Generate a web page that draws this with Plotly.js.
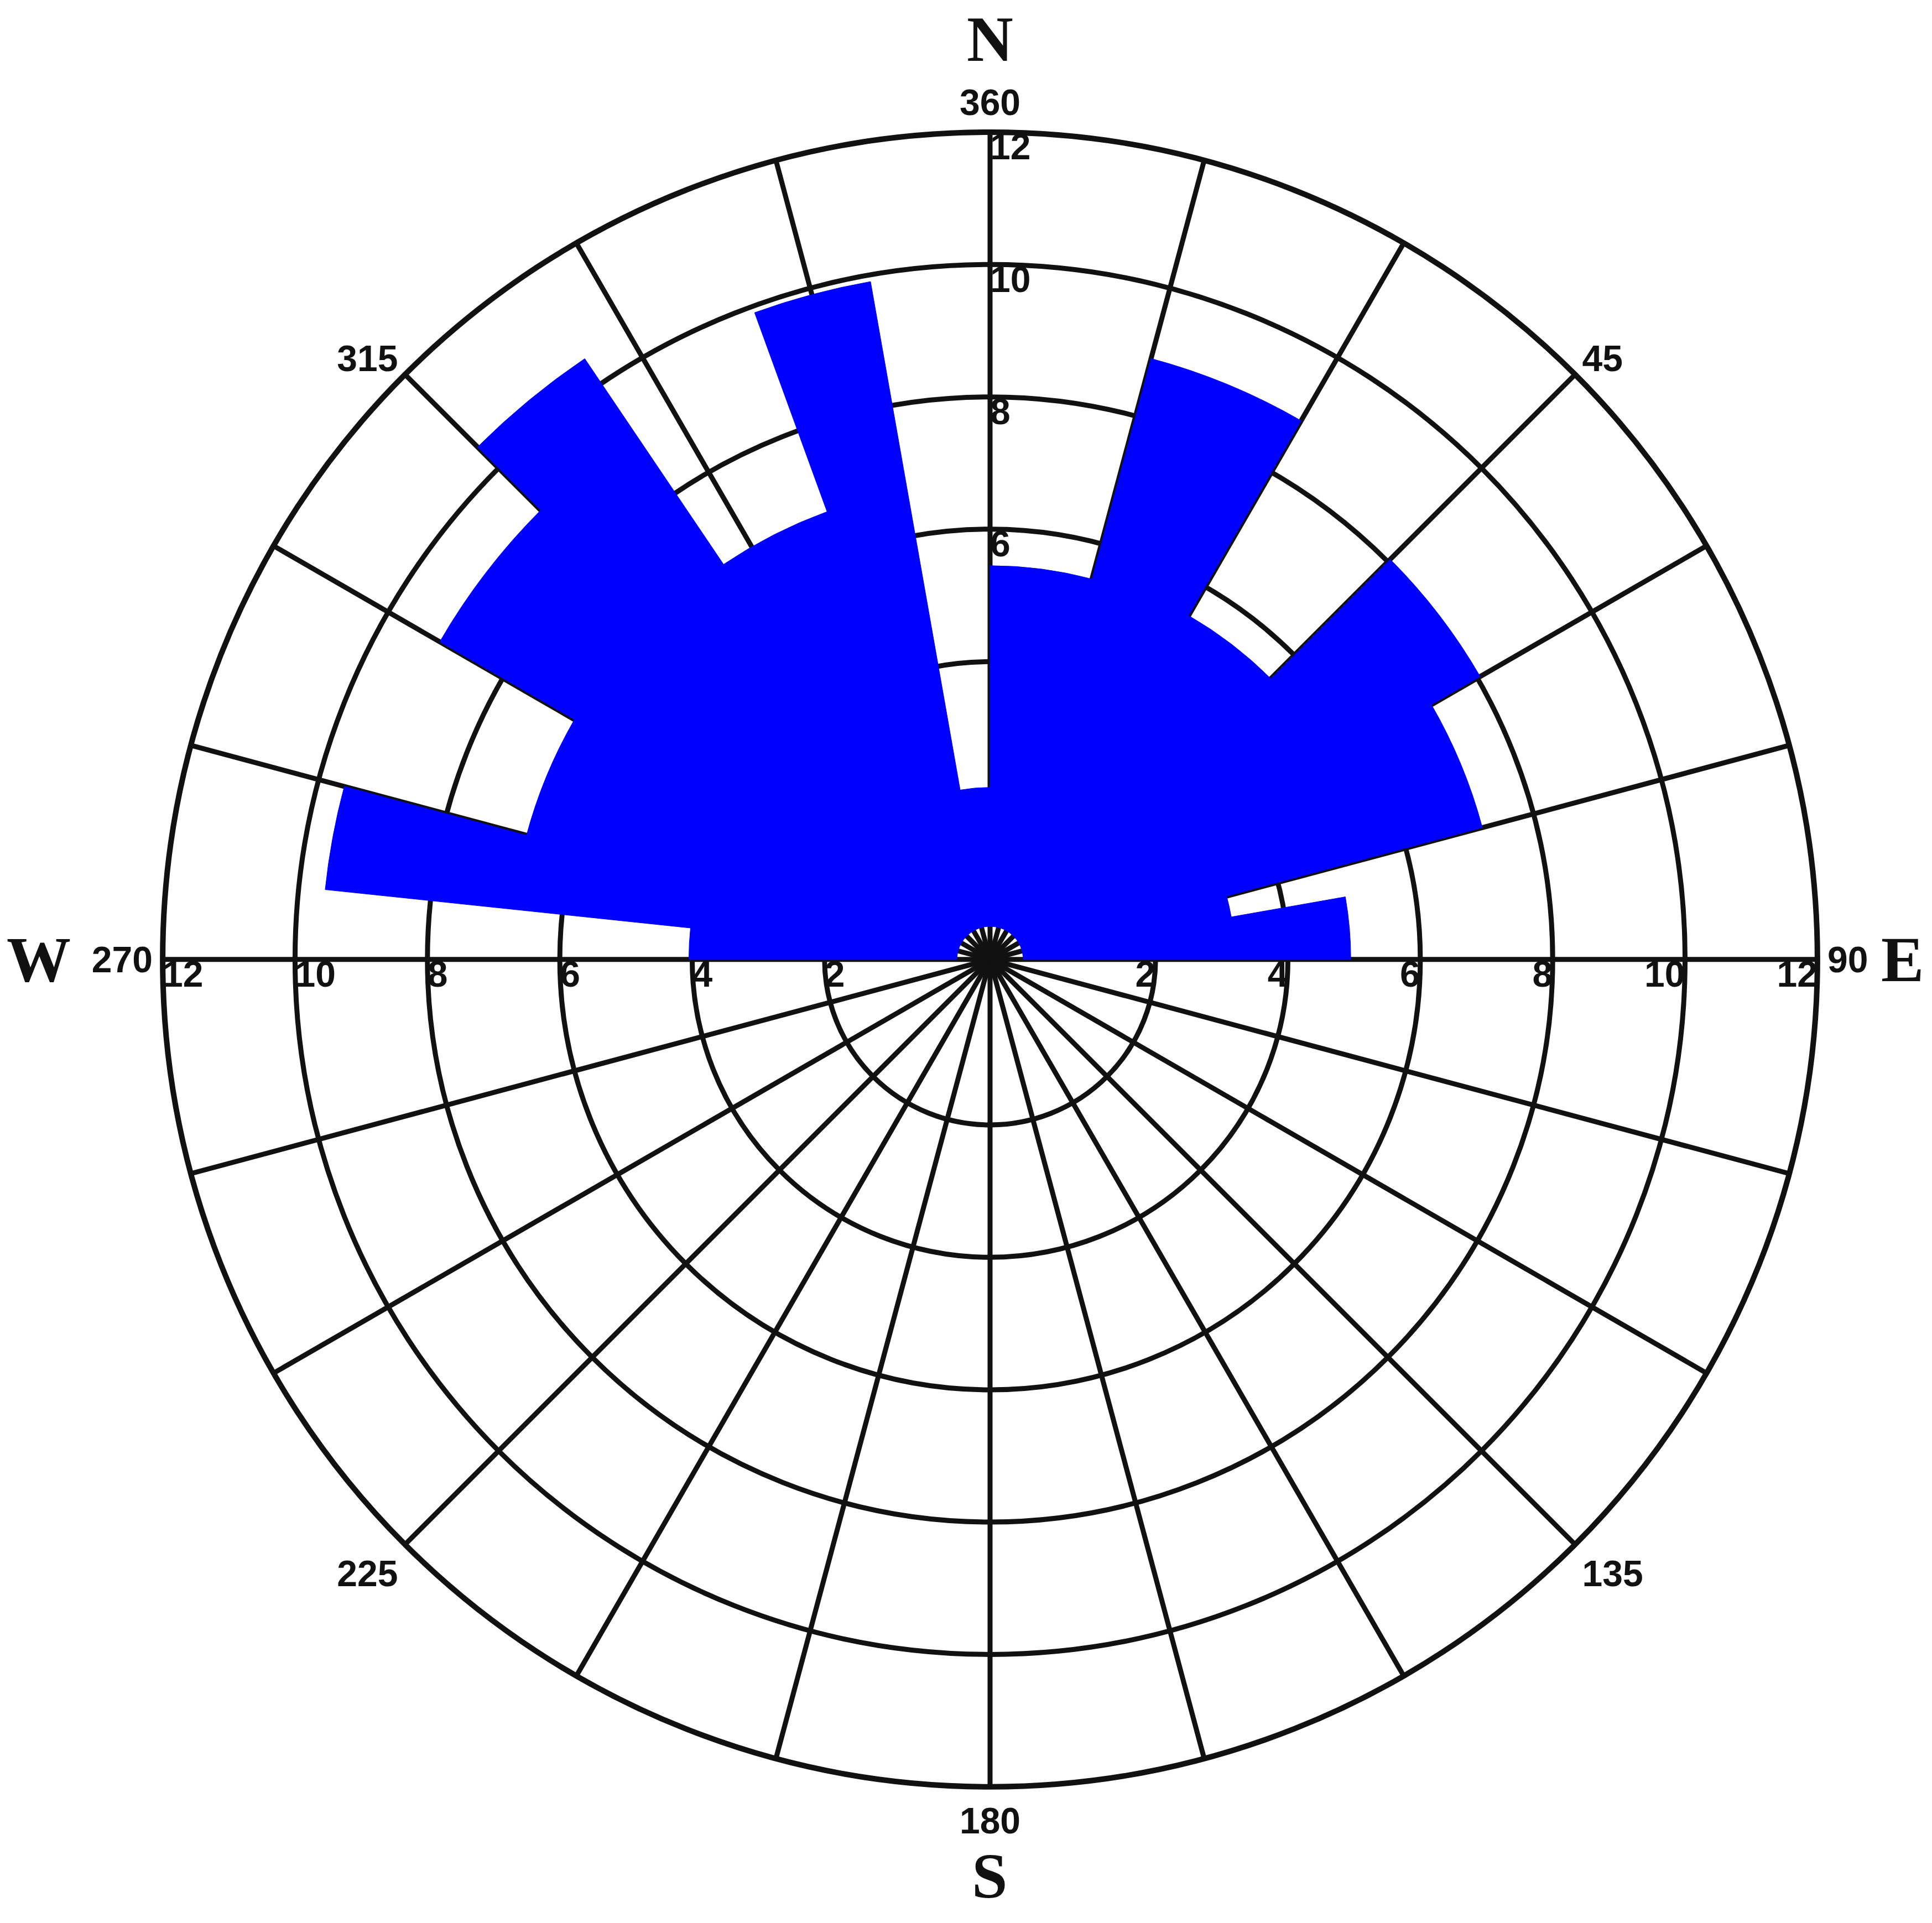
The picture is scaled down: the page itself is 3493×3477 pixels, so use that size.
<!DOCTYPE html>
<html><head><meta charset="utf-8">
<script src="https://cdn.plot.ly/plotly-3.0.1.min.js"></script>
<style>html,body{margin:0;padding:0;background:#fff}#chart{width:3493px;height:3477px}</style>
</head><body><div id="chart"></div>
<script>
// Rose diagram bins (degrees clockwise from north) and their values
const binStart = [270, 276, 285, 300, 315, 326, 340, 350, 0, 15, 30, 45, 60, 75, 80];
const binEnd   = [276, 285, 300, 315, 326, 340, 350, 360, 15, 30, 45, 60, 75, 80, 90];
const counts   = [4.05, 9.6, 6.75, 9.1, 10.45, 6.7, 9.9, 2.1, 5.45, 8.9, 5.5, 8.05, 7.2, 3.2, 4.95];

// Radial rings and their labels
const ringValues = [2, 4, 6, 8, 10, 12];
const ringLabels = ['2', '4', '6', '8', '10', '12'];
const northRingValues = [6, 8, 10, 12];
const northRingLabels = ['6', '8', '10', '12'];

// Angular grid (every 15 deg) and labelled directions
const gridAngles = [0, 15, 30, 45, 60, 75, 90, 105, 120, 135, 150, 165, 180, 195, 210, 225, 240, 255, 270, 285, 300, 315, 330, 345];
const labelAngles = [0, 45, 90, 135, 180, 225, 270, 315];
const labelTexts = ['360', '45', '90', '135', '180', '225', '270', '315'];
const compassLetters = ['N', 'E', 'S', 'W'];

const thetaCenters = binStart.map((s, i) => (s + binEnd[i]) / 2);
const widths = binStart.map((s, i) => binEnd[i] - s);
const ticktext = gridAngles.map(a => {
  const k = labelAngles.indexOf(a);
  return k >= 0 ? labelTexts[k] : '';
});

const W = 3493, H = 3477;
const dom = {x: [0.0842, 0.9407], y: [0.0708, 0.9313]};
const cxp = (dom.x[0] + dom.x[1]) / 2, cyp = (dom.y[0] + dom.y[1]) / 2;
const R = Math.min((dom.x[1] - dom.x[0]) * W, (dom.y[1] - dom.y[0]) * H) / 2;
// compass letter offsets as multiples of the radius
const compassDist = [1.112, 1.103, 1.108, 1.150];
const compassAng = [0, 90, 180, 270];

const labelFont = {family: 'Liberation Sans, Arial, sans-serif', size: 66, color: '#111', weight: 'bold'};

const traces = [
  {
    type: 'barpolar',
    r: counts,
    theta: thetaCenters,
    width: widths,
    marker: {color: '#0000FF', line: {color: '#0000FF', width: 1}},
    hoverinfo: 'r+theta'
  },
  {
    type: 'scatterpolar', mode: 'text',
    r: ringValues, theta: ringValues.map(() => 90),
    text: ringLabels, textposition: 'bottom left',
    textfont: labelFont, cliponaxis: false, hoverinfo: 'skip'
  },
  {
    type: 'scatterpolar', mode: 'text',
    r: ringValues, theta: ringValues.map(() => 270),
    text: ringLabels, textposition: 'bottom right',
    textfont: labelFont, cliponaxis: false, hoverinfo: 'skip'
  },
  {
    type: 'scatterpolar', mode: 'text',
    r: northRingValues, theta: northRingValues.map(() => 0),
    text: northRingLabels, textposition: 'bottom right',
    textfont: labelFont, cliponaxis: false, hoverinfo: 'skip'
  }
];

const annotations = compassLetters.map((t, i) => {
  const a = compassAng[i] * Math.PI / 180;
  const d = compassDist[i] * R;
  return {
    text: t, showarrow: false, xref: 'paper', yref: 'paper',
    x: cxp + d * Math.sin(a) / W, y: cyp + d * Math.cos(a) / H,
    xanchor: 'center', yanchor: 'middle',
    font: {family: 'Liberation Serif, Times New Roman, serif', size: 116, color: '#111', weight: 'bold'}
  };
});

const layout = {
  width: W, height: H,
  margin: {l: 0, r: 0, t: 0, b: 0},
  paper_bgcolor: '#ffffff',
  showlegend: false,
  polar: {
    domain: dom,
    bgcolor: '#ffffff',
    bargap: 0,
    radialaxis: {
      range: [-0.5, 12],
      tickvals: ringValues,
      showticklabels: false,
      ticks: '',
      showline: false,
      gridcolor: '#111',
      gridwidth: 9
    },
    angularaxis: {
      rotation: 90,
      direction: 'clockwise',
      tickmode: 'array',
      tickvals: gridAngles,
      ticktext: ticktext,
      ticks: '',
      showline: true,
      linecolor: '#111',
      linewidth: 10,
      gridcolor: '#111',
      gridwidth: 9,
      tickfont: labelFont
    }
  },
  annotations: annotations
};

Plotly.newPlot('chart', traces, layout, {displayModeBar: false, staticPlot: true});
</script>
</body></html>
